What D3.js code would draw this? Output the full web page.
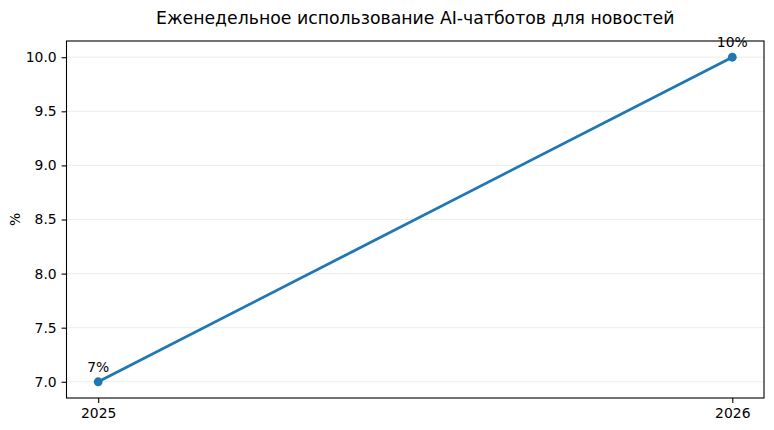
<!DOCTYPE html>
<html>
<head>
<meta charset="utf-8">
<script src="https://cdn.jsdelivr.net/npm/d3@7"></script>
<style>
  body { margin: 0; background: #fff; }
  svg { font-family: "DejaVu Sans", sans-serif; }
</style>
</head>
<body>
<svg class="chart"></svg>
<script>
// weekly AI chatbot usage for news
var years = [2025, 2026];
var values = [7, 10];
var pointLabels = ["7%", "10%"];
var yTicks = [7.0, 7.5, 8.0, 8.5, 9.0, 9.5, 10.0];
var title = "Еженедельное использование AI-чатботов для новостей";

var width = 774, height = 430;
var margin = { top: 41, right: 10, bottom: 32, left: 66.5 };

var svg = d3.select(".chart")
  .attr("width", width)
  .attr("height", height);

var x = d3.scaleLinear()
  .domain([2024.95, 2026.05])
  .range([margin.left, width - margin.right]);

var y = d3.scaleLinear()
  .domain([6.85, 10.15])
  .range([height - margin.bottom, margin.top]);

// grid
svg.append("g")
  .selectAll("line")
  .data(yTicks)
  .join("line")
  .attr("x1", x.range()[0])
  .attr("x2", x.range()[1])
  .attr("y1", function(d) { return y(d); })
  .attr("y2", function(d) { return y(d); })
  .attr("stroke", "#b0b0b0")
  .attr("stroke-opacity", 0.3)
  .attr("stroke-width", 0.8);

// axes
var xAxis = svg.append("g")
  .attr("transform", "translate(0," + (height - margin.bottom) + ")")
  .call(d3.axisBottom(x).tickValues(years).tickFormat(d3.format("d")).tickSize(4.9).tickPadding(4.9));

var yAxis = svg.append("g")
  .attr("transform", "translate(" + margin.left + ",0)")
  .call(d3.axisLeft(y).tickValues(yTicks).tickFormat(d3.format(".1f")).tickSize(4.9).tickPadding(4.9));

[xAxis, yAxis].forEach(function(g) {
  g.select(".domain").remove();
  g.selectAll("text").attr("fill", "#000").style("font-size", "13.9px").style("font-family", "DejaVu Sans");
  g.selectAll("line").attr("stroke", "#000").attr("stroke-width", 1.1);
});

// frame
svg.append("rect")
  .attr("x", x.range()[0])
  .attr("y", y.range()[1])
  .attr("width", x.range()[1] - x.range()[0])
  .attr("height", y.range()[0] - y.range()[1])
  .attr("fill", "none")
  .attr("stroke", "#000")
  .attr("stroke-width", 1.1);

// line
var line = d3.line()
  .x(function(d, i) { return x(years[i]); })
  .y(function(d) { return y(d); });

svg.append("path")
  .datum(values)
  .attr("d", line)
  .attr("fill", "none")
  .attr("stroke", "#1f77b4")
  .attr("stroke-width", 2.8);

svg.append("g")
  .selectAll("circle")
  .data(values)
  .join("circle")
  .attr("cx", function(d, i) { return x(years[i]); })
  .attr("cy", function(d) { return y(d); })
  .attr("r", 4.4)
  .attr("fill", "#1f77b4");

svg.append("g")
  .selectAll("text")
  .data(values)
  .join("text")
  .attr("x", function(d, i) { return x(years[i]); })
  .attr("y", function(d) { return y(d) - 10; })
  .attr("text-anchor", "middle")
  .style("font-size", "13.9px")
  .text(function(d, i) { return pointLabels[i]; });

// title and y label
svg.append("text")
  .attr("x", (x.range()[0] + x.range()[1]) / 2)
  .attr("y", 23.5)
  .attr("text-anchor", "middle")
  .style("font-size", "17.3px")
  .text(title);

svg.append("text")
  .attr("transform", "translate(20," + ((y.range()[0] + y.range()[1]) / 2) + ") rotate(-90)")
  .attr("text-anchor", "middle")
  .style("font-size", "13.9px")
  .text("%");
</script>
</body>
</html>
